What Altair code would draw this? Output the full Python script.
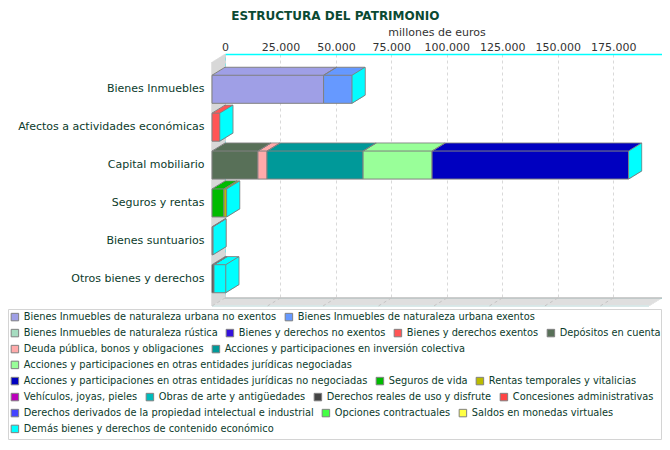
import altair as alt
import pandas as pd

# ---------------- data ----------------
categories = [
    "Bienes Inmuebles",
    "Afectos a actividades económicas",
    "Capital mobiliario",
    "Seguros y rentas",
    "Bienes suntuarios",
    "Otros bienes y derechos",
]

series = [
    "Bienes Inmuebles de naturaleza urbana no exentos",
    "Bienes Inmuebles de naturaleza urbana exentos",
    "Bienes Inmuebles de naturaleza rústica",
    "Bienes y derechos no exentos",
    "Bienes y derechos exentos",
    "Depósitos en cuenta",
    "Deuda pública, bonos y obligaciones",
    "Acciones y participaciones en inversión colectiva",
    "Acciones y participaciones en otras entidades jurídicas negociadas",
    "Acciones y participaciones en otras entidades jurídicas no negociadas",
    "Seguros de vida",
    "Rentas temporales y vitalicias",
    "Vehículos, joyas, pieles",
    "Obras de arte y antigüedades",
    "Derechos reales de uso y disfrute",
    "Concesiones administrativas",
    "Derechos derivados de la propiedad intelectual e industrial",
    "Opciones contractuales",
    "Saldos en monedas virtuales",
    "Demás bienes y derechos de contenido económico",
]

series_colors = [
    "#9f9fe6", "#6699ff", "#a6dcc0", "#3311dd", "#ff5555", "#587058",
    "#ffaaaa", "#009999", "#99ff99", "#0000c0", "#00bb00", "#bbbb00",
    "#bb00bb", "#00bbbb", "#444444", "#ff4444", "#4444ff", "#44ff44",
    "#ffff44", "#00ffff",
]

# index of the category each series belongs to
series_category = [0, 0, 0, 1, 1, 2, 2, 2, 2, 2, 3, 3, 4, 4, 5, 5, 5, 5, 5, 5]

# millones de euros
series_values = [
    50300, 12800, 0, 0, 3500, 20700,
    4100, 43300, 31100, 88600, 5400, 1200,
    300, 100, 900, 0, 0, 0,
    0, 5300,
]

# legend rows (indices of series shown on each legend line)
legend_rows = [[0, 1], [2, 3, 4, 5], [6, 7], [8], [9, 10, 11],
               [12, 13, 14, 15], [16, 17, 18], [19]]

x_ticks = [0, 25000, 50000, 75000, 100000, 125000, 150000, 175000]
x_max = 197000

df = pd.DataFrame({
    "series": series,
    "category": [categories[i] for i in series_category],
    "value": series_values,
    "order": list(range(len(series))),
})
ticks_df = pd.DataFrame({"tick": x_ticks})

# ---------------- layout ----------------
W, H = 437, 244
DX, DY, N = 13, 8, 13
pad_inner, pad_outer = 0.26, 0.35
step = H / (len(categories) - pad_inner + 2 * pad_outer)
bw = step * (1 - pad_inner)
FONT = "DejaVu Sans"
TXT = "#0b3b2b"
EDGE = "#808080"
PAD = {"left": 217, "top": 46, "right": 0, "bottom": 142}
LEG_TOP, LEG_STEP = 258, 16.0

xscale = alt.Scale(domain=[0, x_max], nice=False, zero=True)
yscale = alt.Scale(domain=categories, paddingInner=pad_inner, paddingOuter=pad_outer)

xaxis = alt.Axis(
    orient="top", values=x_ticks,
    labelExpr="replace(format(datum.value, ','), ',', '.')",
    title="millones de euros", titleFontWeight="normal", titleFontSize=11,
    titleColor="#333333", titlePadding=4, labelFontSize=11, labelColor="#333333",
    labelPadding=2, ticks=False, domainColor="#00ffff", domainWidth=1.5,
    grid=True, gridColor="#d9d9d9", gridDash=[3, 3], labelFlush=False,
    labelOverlap=False, titleFont=FONT, labelFont=FONT, titleX=W / 2 - 7,
)
yaxis = alt.Axis(
    title=None, ticks=False, domain=False, grid=False, labelPadding=21,
    labelOffset=DY, labelFontSize=11, labelColor=TXT, labelLimit=300, labelFont=FONT,
)

dummy = pd.DataFrame({"d": [0]})


def vrule(x, y1, y2, color, w):
    return alt.Chart(dummy).mark_rule(color=color, strokeWidth=w).encode(
        x=alt.value(x), y=alt.value(y1), y2=alt.value(y2))


def hrule(x1, x2, y, color, w):
    return alt.Chart(dummy).mark_rule(color=color, strokeWidth=w).encode(
        x=alt.value(x1), x2=alt.value(x2), y=alt.value(y))


def stacked():
    return (alt.Chart(df)
            .transform_stack(stack="value", groupby=["category"], as_=["x0", "x1"],
                             sort=[alt.SortField("order", order="ascending")])
            .transform_filter("datum.value > 0"))


layers = []

# legend frame
layers.append(alt.Chart(dummy).mark_rect(fill="white", stroke="#d4d4d4", strokeWidth=1).encode(
    x=alt.value(-216.5), x2=alt.value(W - 0.5), y=alt.value(255.5), y2=alt.value(385.5)))

# left wall
for k in range(DX + 1):
    layers.append(vrule(-k, DY * k / DX, H + DY * k / DX, "#d3d3d3", 1.3))
# floor
for j in range(DY + 1):
    layers.append(hrule(-DX * j / DY, W - DX * j / DY, H + j, "#dcdcdc", 1.3))
layers.append(hrule(0, W, H, "#b4b4b4", 1))
layers.append(hrule(-DX, W - DX, H + DY, "#cfeeee", 1))
# slanted grid lines on the floor
layers.append(alt.Chart(ticks_df).mark_rule(color="#c4c4c4", strokeDash=[3, 3], strokeWidth=1,
                                            x2Offset=-DX).encode(
    x=alt.X("tick:Q", scale=xscale, axis=xaxis), x2="tick:Q",
    y=alt.value(H), y2=alt.value(H + DY)))

# depth copies of the bars (back to front)
for k in range(N, 0, -1):
    ox = -DX + DX * k / N
    oy = DY - DY * k / N
    stroke = {"stroke": EDGE, "strokeWidth": 1} if k == N else {}
    layers.append(stacked().mark_bar(xOffset=ox, x2Offset=ox, yOffset=oy, y2Offset=oy, **stroke).encode(
        x=alt.X("x0:Q", scale=xscale, axis=xaxis),
        x2="x1:Q",
        y=alt.Y("category:N", scale=yscale, axis=yaxis),
        color=alt.Color("series:N", scale=alt.Scale(domain=series, range=series_colors), legend=None),
    ))

# side faces
totals = alt.Chart(df).transform_aggregate(total="sum(value)", groupby=["category"])
for k in range(N, -1, -1):
    ox = -DX + DX * k / N
    oy = DY - DY * k / N
    col = EDGE if k == N else "#00ffff"
    th = 1 if k == N else 1.6
    layers.append(totals.mark_tick(color=col, thickness=th, size=bw, xOffset=ox, yOffset=oy, opacity=1).encode(
        x=alt.X("total:Q", scale=xscale, axis=xaxis),
        y=alt.Y("category:N", scale=yscale, axis=yaxis),
    ))

# diagonal edges of the top faces (segment boundaries)
for fld in ["x0", "x1"]:
    layers.append(stacked().mark_rule(color=EDGE, strokeWidth=1, x2Offset=-DX,
                                      yOffset=-bw / 2, y2Offset=-bw / 2 + DY).encode(
        x=alt.X(f"{fld}:Q", scale=xscale, axis=xaxis), x2=f"{fld}:Q",
        y=alt.Y("category:N", scale=yscale, axis=yaxis), y2="category:N"))
# lower diagonal edge of the side faces
layers.append(totals.mark_rule(color=EDGE, strokeWidth=1, x2Offset=-DX,
                               yOffset=bw / 2, y2Offset=bw / 2 + DY).encode(
    x=alt.X("total:Q", scale=xscale, axis=xaxis), x2="total:Q",
    y=alt.Y("category:N", scale=yscale, axis=yaxis), y2="category:N"))

# front faces, one layer per legend line
for r, row in enumerate(legend_rows):
    names = [series[i] for i in row]
    cols = [series_colors[i] for i in row]
    leg = alt.Legend(
        orient="none", legendX=-215, legendY=LEG_TOP + LEG_STEP * r, direction="horizontal",
        columns=len(row), title=None, symbolType="square", symbolSize=56,
        symbolStrokeColor=EDGE, symbolStrokeWidth=1, labelFontSize=9.8,
        labelColor=TXT, labelFont=FONT, labelLimit=700, columnPadding=6,
        labelOffset=4, padding=0, symbolOpacity=1,
    )
    layers.append(stacked()
                  .transform_filter(alt.FieldOneOfPredicate(field="series", oneOf=names))
                  .mark_bar(stroke=EDGE, strokeWidth=1, xOffset=-DX, x2Offset=-DX,
                            yOffset=DY, y2Offset=DY, opacity=1)
                  .encode(
                      x=alt.X("x0:Q", scale=xscale, axis=xaxis),
                      x2="x1:Q",
                      y=alt.Y("category:N", scale=yscale, axis=yaxis),
                      color=alt.Color("series:N", scale=alt.Scale(domain=names, range=cols), legend=leg),
                  ))

chart = (alt.layer(*layers)
         .resolve_scale(color="independent")
         .properties(
             width=W, height=H,
             autosize=alt.AutoSizeParams(type="none"),
             padding=PAD,
             title=alt.TitleParams("ESTRUCTURA DEL PATRIMONIO", font=FONT, fontSize=12,
                                   fontWeight="bold", color="#0b4a33", anchor="middle",
                                   frame="bounds", offset=3),
         )
         .configure(font=FONT)
         .configure_view(stroke="#00ffff", strokeWidth=1)
         )

chart.save("out.html", embed_options={"renderer": "svg", "actions": False})
